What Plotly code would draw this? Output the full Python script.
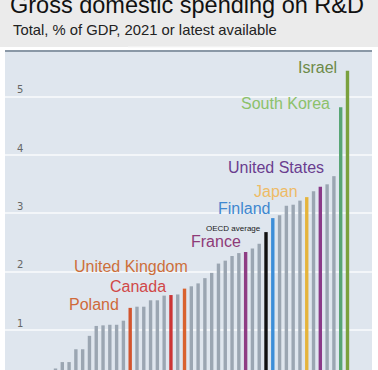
import plotly.graph_objects as go

# ---------------- data ----------------
values = [0.34, 0.45, 0.45, 0.67, 0.67, 0.90, 1.07, 1.08, 1.09, 1.09, 1.16,
          1.38, 1.40, 1.40, 1.51, 1.51, 1.59, 1.60, 1.61, 1.71, 1.75, 1.80,
          1.89, 1.98, 2.14, 2.19, 2.27, 2.32, 2.34, 2.40, 2.48, 2.68, 2.92,
          2.97, 3.13, 3.15, 3.22, 3.28, 3.38, 3.46, 3.50, 3.64, 4.82, 5.45]
countries = ["", "", "", "", "", "", "", "", "", "", "",
             "Poland", "", "", "", "", "", "Canada", "", "United Kingdom", "", "",
             "", "", "", "", "", "", "France", "", "", "OECD average", "Finland",
             "", "", "", "", "Japan", "", "United States", "", "", "South Korea", "Israel"]
tick_values = [1, 2, 3, 4, 5]
tick_labels = ["1", "2", "3", "4", "5"]
title_text = "Gross domestic spending on R&D"
subtitle_text = "Total, % of GDP, 2021 or latest available"

# ---------------- styles ----------------
GRAY = "#9ba6b2"
bar_colors = {
    "Poland": "#d2552e", "Canada": "#cc3535", "United Kingdom": "#d9622e",
    "France": "#8e3d84", "OECD average": "#111111", "Finland": "#3d8ed8",
    "Japan": "#e5b43c", "United States": "#8a3a88", "South Korea": "#57a574",
    "Israel": "#7aa13e",
}
label_style = {  # colour, xshift, yshift, font size
    "Israel": ("#6d8a48", -8, 3, 16),
    "South Korea": ("#8cc16a", -9, 3.5, 16),
    "United States": ("#6a3d8f", 6, 19, 16),
    "Japan": ("#eebb66", -7, 6, 16),
    "Finland": ("#3f88d0", -1, 9.5, 16),
    "OECD average": ("#1a1a1a", -3, 4, 8),
    "France": ("#8e3a78", -3, 10.5, 16),
    "United Kingdom": ("#cd6f3a", 5, 22.5, 16),
    "Canada": ("#d04848", -3, 8.5, 16),
    "Poland": ("#cf6a3a", -9, 3, 16),
}

W, H = 378, 370
L, R, T, B = 5, 6, 52, 0
pw, ph = W - L - R, H - T - B


def px(x):
    return (x - L) / pw


def py(y):
    return (H - B - y) / ph


xs = list(range(len(values)))
colors = [bar_colors.get(c, GRAY) for c in countries]

fig = go.Figure(go.Bar(x=xs, y=values, marker=dict(color=colors, line=dict(width=0)),
                       hoverinfo="skip"))

annotations = []
for i, (c, v) in enumerate(zip(countries, values)):
    if c in label_style:
        col, xs_, ys_, fs = label_style[c]
        fam = "Liberation Sans, Arial"
        annotations.append(dict(x=i, y=v, xref="x", yref="y", text=c, showarrow=False,
                                xanchor="right", yanchor="middle", xshift=xs_, yshift=ys_,
                                font=dict(family=fam, size=fs, color=col)))

annotations.append(dict(x=px(8), y=py(20), xref="paper", yref="paper", text=title_text,
                        showarrow=False, xanchor="left", yanchor="bottom",
                        font=dict(family="Liberation Sans, Arial", size=23.5, color="#111111")))
annotations.append(dict(x=px(11), y=py(30.5), xref="paper", yref="paper", text=subtitle_text,
                        showarrow=False, xanchor="left", yanchor="middle",
                        font=dict(family="Liberation Sans, Arial", size=14.8, color="#222222")))

shapes = [
    dict(type="rect", xref="paper", yref="paper", x0=px(0), x1=px(W), y0=py(47), y1=py(-2),
         fillcolor="#ebebeb", line=dict(width=0), layer="below"),
    dict(type="line", xref="paper", yref="paper", x0=px(128), x1=px(250), y0=py(47), y1=py(47),
         line=dict(color="#f8f8f8", width=1)),
    dict(type="line", xref="paper", yref="paper", x0=0, x1=1, y0=py(51), y1=py(51),
         line=dict(color="#8a98a6", width=2)),
]

fig.update_layout(
    width=W, height=H,
    margin=dict(l=L, r=R, t=T, b=B, pad=0),
    paper_bgcolor="white", plot_bgcolor="#dfe6ee",
    showlegend=False, bargap=0.5,
    annotations=annotations, shapes=shapes,
    xaxis=dict(range=[-7.437, 46.61], showgrid=False, zeroline=False, showticklabels=False,
               ticks="", fixedrange=True),
    yaxis=dict(range=[0.314, 5.77], tickvals=tick_values, ticktext=tick_labels,
               showgrid=True, gridcolor="#f3f6f9", gridwidth=2, zeroline=False,
               ticklabelposition="inside top", ticklabelstandoff=9,
               tickfont=dict(family="DejaVu Sans, Liberation Sans", size=10, color="#666666"),
               ticks="", fixedrange=True),
)

fig.write_html("out.html", config={"displayModeBar": False, "staticPlot": True},
               post_script="document.body.style.margin='0';document.body.style.overflow='hidden';")
